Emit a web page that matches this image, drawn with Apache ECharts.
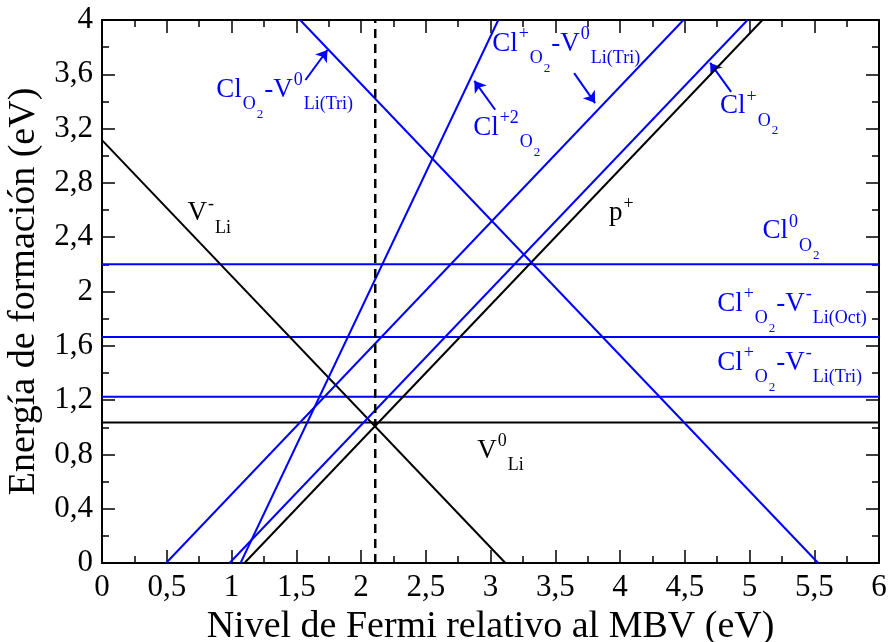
<!DOCTYPE html>
<html>
<head>
<meta charset="utf-8">
<script src="https://cdn.jsdelivr.net/npm/echarts@6/dist/echarts.min.js"></script>
<style>
  html, body { margin: 0; padding: 0; background: #fff; }
  #chart { width: 889px; height: 642px; }
</style>
</head>
<body>
<div id="chart"></div>
<script>
// line end points, [x (eV), y (eV)]
const vLiMinus = [[0, 3.115], [3.115, 0]];
const vLiZero = [[0, 1.035], [6, 1.035]];
const pPlus = [[1.10, 0], [5.10, 4]];
const clPlus = [[0.985, 0], [4.985, 4]];
const clPlusV0Tri = [[0.495, 0], [4.49, 4]];
const clPlus2 = [[1.07, 0], [3.06, 4]];
const clV0Tri = [[1.53, 4], [5.53, 0]];
const clZero = [[0, 2.2], [6, 2.2]];
const clPlusVOct = [[0, 1.665], [6, 1.665]];
const clPlusVTri = [[0, 1.225], [6, 1.225]];
const fermiLevel = [[2.11, 0], [2.11, 4]];

// arrows: [from, to]
const arrows = [
  [[1.571, 3.558], [1.741, 3.779]],
  [[3.036, 3.339], [2.875, 3.552]],
  [[3.646, 3.609], [3.808, 3.388]],
  [[4.858, 3.471], [4.696, 3.684]]
];

// annotation labels: position (left, baseline) and text pieces
const labels = [
  { at: [0.66, 2.51], color: "#000", parts: [["V", "n"], ["-", "sup"], ["Li", "sub"]] },
  { at: [2.897, 0.761], color: "#000", parts: [["V", "n"], ["0", "sup"], ["Li", "sub"]] },
  { at: [3.916, 2.512], color: "#000", parts: [["p", "n"], ["+", "sup"]] },
  { at: [0.882, 3.42], color: "#0000ff", parts: [["Cl", "n"], ["O", "sub"], ["2", "sub2"], ["-V", "n"], ["0", "sup"], ["Li(Tri)", "sub"]] },
  { at: [2.866, 3.139], color: "#0000ff", parts: [["Cl", "n"], ["+2", "sup"], ["O", "sub"], ["2", "sub2"]] },
  { at: [3.013, 3.758], color: "#0000ff", parts: [["Cl", "n"], ["+", "sup"], ["O", "sub"], ["2", "sub2"], ["-V", "n"], ["0", "sup"], ["Li(Tri)", "sub"]] },
  { at: [4.773, 3.30], color: "#0000ff", parts: [["Cl", "n"], ["+", "sup"], ["O", "sub"], ["2", "sub2"]] },
  { at: [5.10, 2.38], color: "#0000ff", parts: [["Cl", "n"], ["0", "sup"], ["O", "sub"], ["2", "sub2"]] },
  { at: [4.75, 1.843], color: "#0000ff", parts: [["Cl", "n"], ["+", "sup"], ["O", "sub"], ["2", "sub2"], ["-V", "n"], ["-", "sup"], ["Li(Oct)", "sub"]] },
  { at: [4.75, 1.41], color: "#0000ff", parts: [["Cl", "n"], ["+", "sup"], ["O", "sub"], ["2", "sub2"], ["-V", "n"], ["-", "sup"], ["Li(Tri)", "sub"]] }
];

const FONT = '"Liberation Serif", "Times New Roman", serif';
const BLUE = "#0000ff";
const pieceStyle = {
  n: { size: 27, dy: 0 },
  sup: { size: 18, dy: -12 },
  sub: { size: 18, dy: 12 },
  sub2: { size: 13, dy: 20 }
};

const fmt = (v) => String(+v.toFixed(2)).replace(".", ",");

function lineSeries(data, color, width, dash) {
  return {
    type: "line",
    data: data,
    symbol: "none",
    silent: true,
    animation: false,
    lineStyle: { color: color, width: width, type: dash || "solid" }
  };
}

function axisCommon(showLabel) {
  return {
    type: "value",
    axisLine: { show: true, onZero: false, lineStyle: { color: "#000", width: 2 } },
    axisTick: { show: true, inside: true, length: 13, lineStyle: { color: "#000", width: 1.5 } },
    minorTick: { show: true, splitNumber: 2, length: 7, lineStyle: { color: "#000", width: 1.5 } },
    splitLine: { show: false },
    axisLabel: {
      show: showLabel,
      formatter: fmt,
      margin: 9,
      color: "#000",
      fontFamily: FONT,
      fontSize: 31
    }
  };
}

const chart = echarts.init(document.getElementById("chart"));

chart.setOption({
  backgroundColor: "#fff",
  animation: false,
  grid: { left: 102, right: 10, top: 20, bottom: 79, containLabel: false, outerBoundsMode: "none" },
  xAxis: [
    Object.assign(axisCommon(true), {
      min: 0, max: 6, interval: 0.5, position: "bottom",
      name: "Nivel de Fermi relativo al MBV (eV)",
      nameLocation: "middle", nameGap: 37,
      nameTextStyle: { color: "#000", fontFamily: FONT, fontSize: 38 }
    }),
    Object.assign(axisCommon(false), { min: 0, max: 6, interval: 0.5, position: "top" })
  ],
  yAxis: [
    Object.assign(axisCommon(true), {
      min: 0, max: 4, interval: 0.4, position: "left",
      name: "Energía de formación (eV)",
      nameLocation: "middle", nameGap: 57,
      nameTextStyle: { color: "#000", fontFamily: FONT, fontSize: 38 }
    }),
    Object.assign(axisCommon(false), { min: 0, max: 4, interval: 0.4, position: "right" })
  ],
  series: [
    lineSeries(vLiZero, "#000", 2),
    lineSeries(clZero, BLUE, 2),
    lineSeries(clPlusVOct, BLUE, 2),
    lineSeries(clPlusVTri, BLUE, 2),
    lineSeries(vLiMinus, "#000", 2),
    lineSeries(pPlus, "#000", 2),
    lineSeries(clPlus, BLUE, 2),
    lineSeries(clPlusV0Tri, BLUE, 2),
    lineSeries(clPlus2, BLUE, 2),
    lineSeries(clV0Tri, BLUE, 2),
    lineSeries(fermiLevel, "#000", 2.5, [9, 6]),
    {
      type: "lines",
      coordinateSystem: "cartesian2d",
      silent: true,
      animation: false,
      symbol: ["none", "arrow"],
      symbolSize: 11,
      lineStyle: { color: BLUE, width: 2, opacity: 1 },
      data: arrows.map((a) => ({ coords: a }))
    }
  ]
});

// text labels with super/subscripts, laid out piece by piece
const ctx = document.createElement("canvas").getContext("2d");
const elements = [];
labels.forEach((lab) => {
  const p = chart.convertToPixel({ xAxisIndex: 0, yAxisIndex: 0 }, lab.at);
  let x = p[0];
  lab.parts.forEach((part) => {
    const st = pieceStyle[part[1]];
    const font = st.size + "px " + FONT;
    ctx.font = font;
    elements.push({
      type: "text",
      silent: true,
      style: {
        text: part[0],
        x: x,
        y: p[1] + st.dy - 0.34 * st.size,
        font: font,
        fill: lab.color,
        align: "left",
        verticalAlign: "middle"
      }
    });
    x += ctx.measureText(part[0]).width + 1;
  });
});
chart.setOption({ graphic: elements });
</script>
</body>
</html>
